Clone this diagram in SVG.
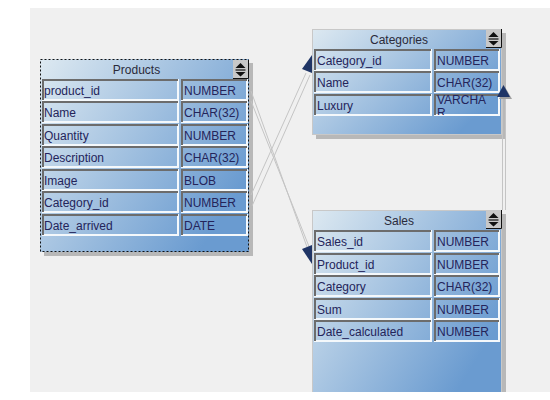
<svg xmlns="http://www.w3.org/2000/svg" width="550" height="400" viewBox="0 0 550 400">
<style>
.tbl{fill:url(#tg)}
.shadow{fill:#b8b8b8}
.hi{fill:none;stroke:#f4f8fb;stroke-width:2}
.sh{fill:none;stroke:#6c6c6c;stroke-width:2}
.t{font-family:"Liberation Sans",Arial,sans-serif;font-size:12px;fill:#24245a}
.ttl{font-family:"Liberation Sans",Arial,sans-serif;font-size:12px;fill:#2a2a3a;text-anchor:middle}
.ln{stroke:#c4c4c4;stroke-width:1;fill:none}
.ah{fill:#1f3566}
.btn{fill:#c8c8c8}
.btnb{fill:none;stroke:#111;stroke-width:1}
</style>
<defs>
<linearGradient id="tg" x1="0" y1="0" x2="1" y2="0.6">
<stop offset="0" stop-color="#dde9f1"/>
<stop offset="1" stop-color="#6a9bd0"/>
</linearGradient>
<clipPath id="cl"><rect x="434" y="94" width="66" height="21"/></clipPath>
<clipPath id="cs"><rect x="0" y="0" width="550" height="392"/></clipPath>
<g id="sb">
<rect class="btn" x="0" y="0" width="15" height="18"/>
<path d="M0 18.5 H15.5 V0" class="btnb"/>
<path d="M7.5 3 L12.5 8 H2.5 Z" fill="#111"/>
<path d="M2.5 10 H12.5" stroke="#111" stroke-width="1.2"/>
<path d="M2.5 12 H12.5 L7.5 16.5 Z" fill="#111"/>
</g>
</defs>
<rect x="0" y="0" width="550" height="400" fill="#ffffff"/>
<rect x="30" y="8" width="520" height="384" fill="#f0f0f0"/>

<g id="products">
<rect class="shadow" x="44" y="63" width="209" height="193"/>
<rect class="tbl" x="40" y="59" width="209" height="193"/>
<rect x="40.5" y="59.5" width="208" height="192" fill="none" stroke="#111" stroke-dasharray="2,2"/>
<text class="ttl" x="136.5" y="74">Products</text>
<use href="#sb" x="233" y="60"/>
<rect class="hi" x="43" y="80" width="135" height="20"/><path class="sh" d="M43 100 V80 H178"/>
<rect class="hi" x="182" y="80" width="65" height="20"/><path class="sh" d="M182 100 V80 H247"/>
<text class="t" x="44" y="95">product_id</text><text class="t" x="184" y="95">NUMBER</text>
<rect class="hi" x="43" y="102" width="135" height="20"/><path class="sh" d="M43 122 V102 H178"/>
<rect class="hi" x="182" y="102" width="65" height="20"/><path class="sh" d="M182 122 V102 H247"/>
<text class="t" x="44" y="117">Name</text><text class="t" x="184" y="117">CHAR(32)</text>
<rect class="hi" x="43" y="125" width="135" height="20"/><path class="sh" d="M43 145 V125 H178"/>
<rect class="hi" x="182" y="125" width="65" height="20"/><path class="sh" d="M182 145 V125 H247"/>
<text class="t" x="44" y="140">Quantity</text><text class="t" x="184" y="140">NUMBER</text>
<rect class="hi" x="43" y="147" width="135" height="20"/><path class="sh" d="M43 167 V147 H178"/>
<rect class="hi" x="182" y="147" width="65" height="20"/><path class="sh" d="M182 167 V147 H247"/>
<text class="t" x="44" y="162">Description</text><text class="t" x="184" y="162">CHAR(32)</text>
<rect class="hi" x="43" y="170" width="135" height="20"/><path class="sh" d="M43 190 V170 H178"/>
<rect class="hi" x="182" y="170" width="65" height="20"/><path class="sh" d="M182 190 V170 H247"/>
<text class="t" x="44" y="185">Image</text><text class="t" x="184" y="185">BLOB</text>
<rect class="hi" x="43" y="192" width="135" height="20"/><path class="sh" d="M43 212 V192 H178"/>
<rect class="hi" x="182" y="192" width="65" height="20"/><path class="sh" d="M182 212 V192 H247"/>
<text class="t" x="44" y="207">Category_id</text><text class="t" x="184" y="207">NUMBER</text>
<rect class="hi" x="43" y="215" width="135" height="20"/><path class="sh" d="M43 235 V215 H178"/>
<rect class="hi" x="182" y="215" width="65" height="20"/><path class="sh" d="M182 235 V215 H247"/>
<text class="t" x="44" y="230">Date_arrived</text><text class="t" x="184" y="230">DATE</text>
</g>

<g id="categories">
<rect class="shadow" x="316" y="33" width="190" height="106"/>
<rect class="tbl" x="312" y="29" width="190" height="106"/>
<rect x="312.5" y="29.5" width="189" height="105" fill="none" stroke="#c8c8c8"/>
<text class="ttl" x="399" y="44">Categories</text>
<use href="#sb" x="486" y="29"/>
<rect class="hi" x="315" y="50" width="116" height="20"/><path class="sh" d="M315 70 V50 H431"/>
<rect class="hi" x="435" y="50" width="64" height="20"/><path class="sh" d="M435 70 V50 H499"/>
<text class="t" x="317" y="65">Category_id</text><text class="t" x="437" y="65">NUMBER</text>
<rect class="hi" x="315" y="72" width="116" height="20"/><path class="sh" d="M315 92 V72 H431"/>
<rect class="hi" x="435" y="72" width="64" height="20"/><path class="sh" d="M435 92 V72 H499"/>
<text class="t" x="317" y="87">Name</text><text class="t" x="437" y="87">CHAR(32)</text>
<rect class="hi" x="315" y="95" width="116" height="20"/><path class="sh" d="M315 115 V95 H431"/>
<rect class="hi" x="435" y="95" width="64" height="20"/><path class="sh" d="M435 115 V95 H499"/>
<text class="t" x="317" y="110">Luxury</text>
<g clip-path="url(#cl)"><text class="t" x="437" y="104">VARCHA</text><text class="t" x="437" y="117">R</text></g>
</g>

<g id="sales" clip-path="url(#cs)">
<rect class="shadow" x="316" y="214" width="190" height="182"/>
<rect class="tbl" x="312" y="210" width="190" height="182"/>
<rect x="312.5" y="210.5" width="189" height="190" fill="none" stroke="#c8c8c8"/>
<text class="ttl" x="399" y="225">Sales</text>
<use href="#sb" x="486" y="210"/>
<rect class="hi" x="315" y="231" width="116" height="20"/><path class="sh" d="M315 251 V231 H431"/>
<rect class="hi" x="435" y="231" width="64" height="20"/><path class="sh" d="M435 251 V231 H499"/>
<text class="t" x="317" y="246">Sales_id</text><text class="t" x="437" y="246">NUMBER</text>
<rect class="hi" x="315" y="254" width="116" height="20"/><path class="sh" d="M315 274 V254 H431"/>
<rect class="hi" x="435" y="254" width="64" height="20"/><path class="sh" d="M435 274 V254 H499"/>
<text class="t" x="317" y="269">Product_id</text><text class="t" x="437" y="269">NUMBER</text>
<rect class="hi" x="315" y="276" width="116" height="20"/><path class="sh" d="M315 296 V276 H431"/>
<rect class="hi" x="435" y="276" width="64" height="20"/><path class="sh" d="M435 296 V276 H499"/>
<text class="t" x="317" y="291">Category</text><text class="t" x="437" y="291">CHAR(32)</text>
<rect class="hi" x="315" y="299" width="116" height="20"/><path class="sh" d="M315 319 V299 H431"/>
<rect class="hi" x="435" y="299" width="64" height="20"/><path class="sh" d="M435 319 V299 H499"/>
<text class="t" x="317" y="314">Sum</text><text class="t" x="437" y="314">NUMBER</text>
<rect class="hi" x="315" y="321" width="116" height="20"/><path class="sh" d="M315 341 V321 H431"/>
<rect class="hi" x="435" y="321" width="64" height="20"/><path class="sh" d="M435 341 V321 H499"/>
<text class="t" x="317" y="336">Date_calculated</text><text class="t" x="437" y="336">NUMBER</text>
</g>

<g id="connectors">
<path class="ln" d="M251 195 L306 73"/>
<path class="ln" d="M252 206 L310 75"/>
<path class="ah" d="M312 55 L302 69 L312 73 Z"/>
<path class="ln" d="M251 91 L307 247"/>
<path class="ln" d="M251 101 L310 249"/>
<path class="ah" d="M302 249 L312 245 L312 264 Z"/>
<path class="ln" d="M502.5 97 V210"/>
<path class="ln" d="M505.5 97 V210"/>
<path d="M505 87 L512 99 L499 99 Z" fill="#a0a0a0"/>
<path class="ah" d="M503.5 85 L510 97 L497 97 Z"/>
</g>
</svg>
